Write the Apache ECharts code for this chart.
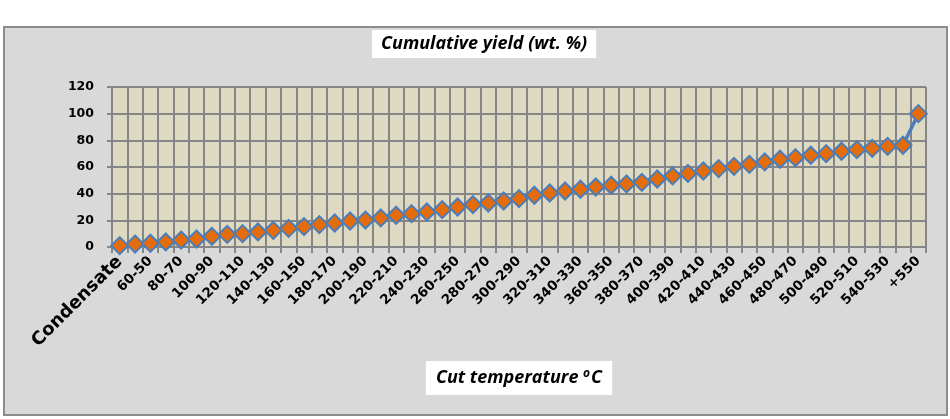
<!DOCTYPE html>
<html>
<head>
<meta charset="utf-8">
<script src="https://cdn.jsdelivr.net/npm/echarts@6/dist/echarts.min.js"></script>
<style>
html,body{margin:0;padding:0;background:#ffffff;}
#chart{width:950px;height:419px;}
</style>
</head>
<body>
<div id="chart"></div>
<script>
var categories = ["Condensate","50-40","60-50","70-60","80-70","90-80","100-90","110-100","120-110","130-120",
"140-130","150-140","160-150","170-160","180-170","190-180","200-190","210-200","220-210","230-220",
"240-230","250-240","260-250","270-260","280-270","290-280","300-290","310-300","320-310","330-320",
"340-330","350-340","360-350","370-360","380-370","390-380","400-390","410-400","420-410","430-420",
"440-430","450-440","460-450","470-460","480-470","490-480","500-490","510-500","520-510","530-520",
"540-530","550-540","+550"];
var cumulativeYield = [1,2.2,2.8,3.8,5.2,6,8,9.5,10,11.3,
12.5,14,15.3,16.8,18,19.5,20.2,21.8,23.8,25,
26.3,28,30,31.8,33,34.5,36.3,38.8,40.5,42,
43.3,45,46.3,47.3,48.5,51,53.3,55.2,57,58.8,
60.5,62,63.8,65.8,67,68.8,70,71.8,73,74,
75.5,76.3,100];
var yTicks = [0,20,40,60,80,100,120];

var chart = echarts.init(document.getElementById('chart'), null, {renderer:'canvas'});
var option = {
  animation:false,
  backgroundColor:'#ffffff',
  graphic:[{
    type:'rect', z:-10, silent:true,
    shape:{x:4,y:27,width:943,height:388},
    style:{fill:'#D9D9D9',stroke:'#8C8C8C',lineWidth:2}
  }],
  title:{
    text:'Cumulative yield (wt. %)',
    left:372, top:30,
    backgroundColor:'#ffffff',
    padding:[5,9,5,9],
    textStyle:{fontFamily:'Open Sans',fontStyle:'italic',fontWeight:'bold',fontSize:18,lineHeight:18,color:'#000'}
  },
  grid:{left:112,right:24,top:87,bottom:172,show:true,backgroundColor:'#DDD9C3',borderWidth:0},
  xAxis:{
    type:'category',
    data:categories,
    boundaryGap:true,
    name:'Cut temperature {sup|o}C',
    nameLocation:'middle',
    nameGap:114,
    nameTextStyle:{
      fontFamily:'Open Sans',fontStyle:'italic',fontWeight:'bold',fontSize:18,color:'#000',
      backgroundColor:'#ffffff',padding:[7,10,7,10],
      rich:{sup:{fontFamily:'Open Sans',fontStyle:'italic',fontWeight:'bold',fontSize:12,verticalAlign:'top',padding:[0,1,8,0],color:'#000'}}
    },
    axisLine:{lineStyle:{color:'#868686',width:2}},
    axisTick:{show:true,alignWithLabel:false,interval:0,length:6,lineStyle:{color:'#868686',width:2}},
    splitLine:{show:true,interval:0,lineStyle:{color:'#868686',width:2}},
    axisLabel:{
      interval:1,
      rotate:45,
      margin:12,
      fontFamily:'DejaVu Sans',fontWeight:'bold',fontSize:13.5,color:'#000',
      formatter:function(v,i){ return i===0 ? '{big|'+v+'}' : v; },
      rich:{big:{fontFamily:'DejaVu Sans',fontWeight:'bold',fontSize:18,color:'#000'}}
    }
  },
  yAxis:{
    type:'value',
    min:0,max:120,interval:20,
    axisLine:{show:true,lineStyle:{color:'#868686',width:2}},
    axisTick:{show:true,length:5,lineStyle:{color:'#868686',width:2}},
    splitLine:{show:true,lineStyle:{color:'#868686',width:2}},
    axisLabel:{margin:18,fontFamily:'DejaVu Sans',fontWeight:'bold',fontSize:12.5,color:'#000',
      formatter:function(v){ return yTicks.indexOf(v)>=0 ? String(v) : ''; }}
  },
  series:[{
    type:'line',
    data:cumulativeYield,
    symbol:'diamond',
    symbolSize:17,
    showAllSymbol:true,
    lineStyle:{color:'#4A7EBB',width:3.5},
    itemStyle:{color:'#E46C0A',borderColor:'#4A7EBB',borderWidth:2},
    z:5
  }]
};
chart.setOption(option);
</script>
</body>
</html>
